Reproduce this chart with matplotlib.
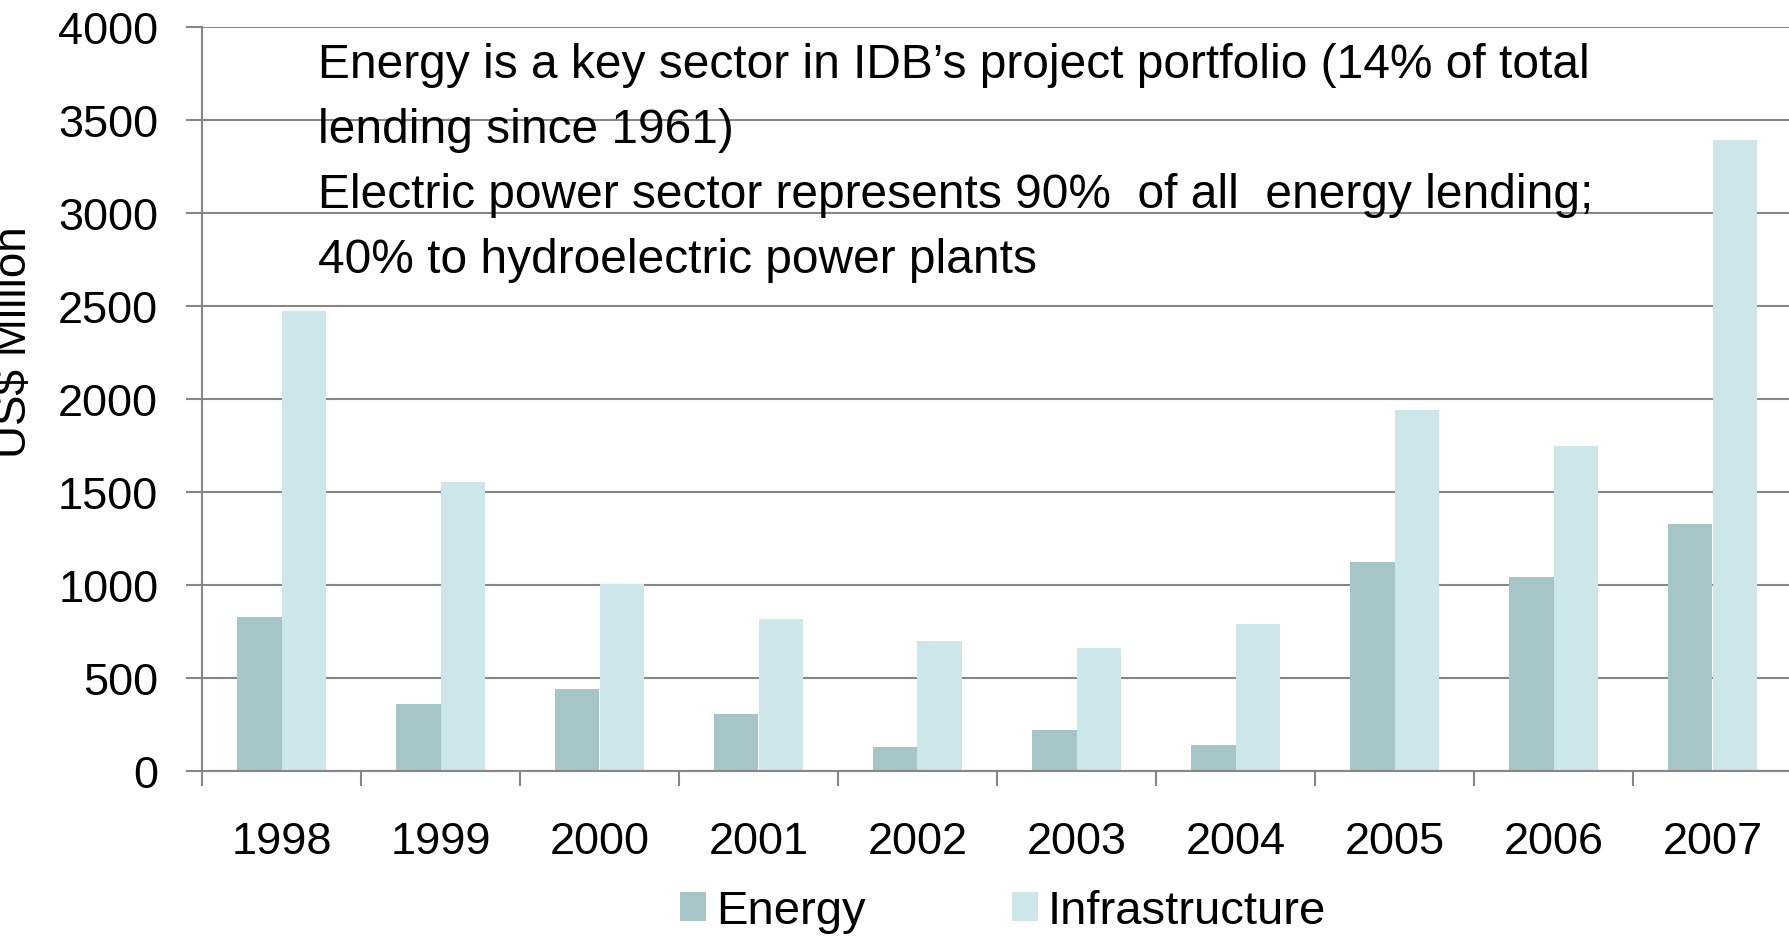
import numpy as np
import matplotlib.pyplot as plt

years = ["1998", "1999", "2000", "2001", "2002", "2003", "2004", "2005", "2006", "2007"]
energy = [828, 362, 442, 307, 129, 221, 141, 1123, 1043, 1330]
infrastructure = [2472, 1552, 1006, 816, 699, 663, 791, 1939, 1748, 3395]

note_lines = [
    "Energy is a key sector in IDB\u2019s project portfolio (14% of total",
    "lending since 1961)",
    "Electric power sector represents 90%  of all  energy lending;",
    "40% to hydroelectric power plants",
]

W, H = 1789, 937
plt.rcParams["font.family"] = ["Liberation Sans", "DejaVu Sans"]

fig = plt.figure(figsize=(W / 100, H / 100), dpi=100)
ax = fig.add_axes([202 / W, 165 / H, 1590 / W, 744 / H])

grid_col = "#868686"
x = np.arange(len(years))
w = 0.283
ax.bar(x - w / 2, energy, w, color="#a5c5c7", label="Energy", zorder=2)
ax.bar(x + w / 2, infrastructure, w, color="#cde6ea", label="Infrastructure", zorder=2)

ax.set_xlim(-0.5, len(years) - 0.5)
ax.set_ylim(0, 4000)
ax.set_yticks(np.arange(0, 4001, 500))
ax.yaxis.grid(True, color=grid_col, linewidth=1.5)
ax.set_axisbelow(True)

ax.set_xticks(x)
ax.set_xticklabels(years)
ax.set_xticks(np.arange(-0.5, len(years), 1), minor=True)
ax.tick_params(axis="x", which="major", length=0, pad=36, labelsize=32.5)
ax.tick_params(axis="x", which="minor", length=11, width=1.5, color=grid_col)
ax.tick_params(axis="y", length=11.5, width=1.5, color=grid_col, pad=20, labelsize=32.5)

for s in ["top", "right"]:
    ax.spines[s].set_visible(False)
for s in ["left", "bottom"]:
    ax.spines[s].set_color(grid_col)
    ax.spines[s].set_linewidth(1.5)

fig.text(36 / W, 1 - 342 / H, "US$ Million", rotation=90, ha="right", va="center", fontsize=33)

for i, line in enumerate(note_lines):
    fig.text(318 / W, 1 - (78 + 65 * i) / H, line, fontsize=34.5, va="baseline", ha="left")

fig.legend(loc="center", bbox_to_anchor=(1003 / W, 25 / H), ncol=2, frameon=False,
           fontsize=34, handlelength=0.55, handleheight=0.55, handletextpad=0.2,
           columnspacing=3.1, borderpad=0)

fig.savefig("out.png", dpi=100)
